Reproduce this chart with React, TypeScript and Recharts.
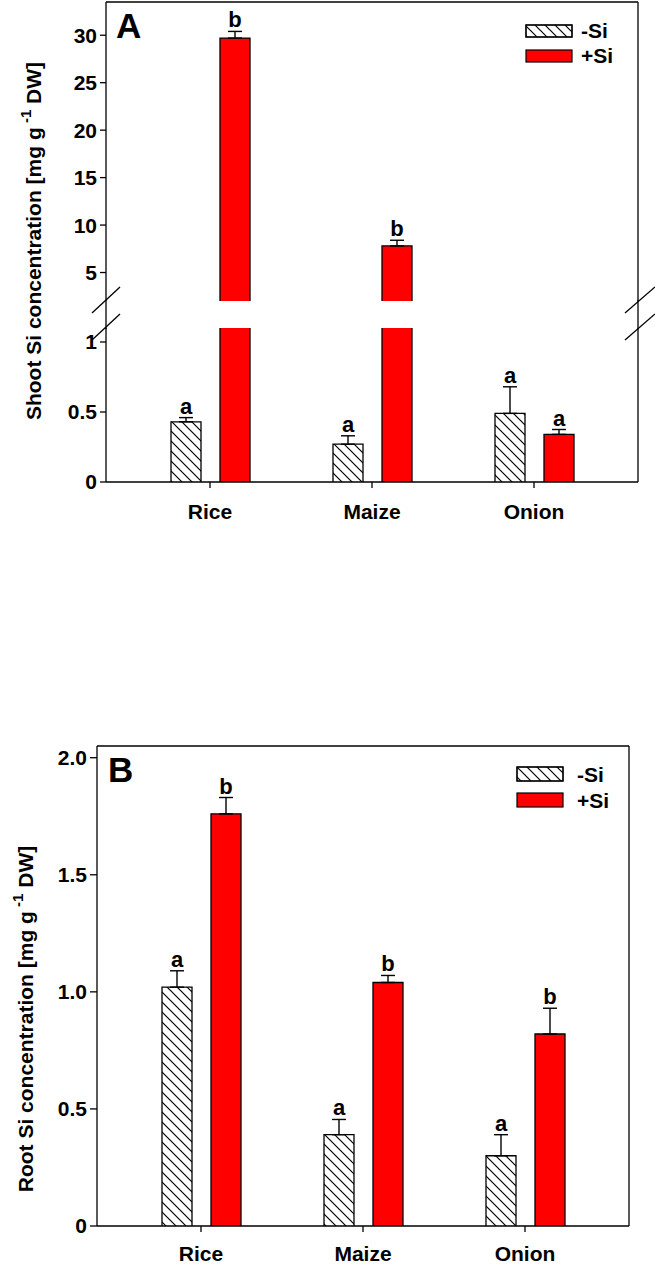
import React from "react";
import { BarChart, Bar, XAxis, YAxis, ErrorBar, LabelList } from "recharts";

const crops = ["Rice", "Maize", "Onion"];
const seriesNames = ["-Si", "+Si"];

// Panel A: shoot Si (mg g-1 DW)
const shootMinus = [0.43, 0.27, 0.49];
const shootMinusErr = [0.03, 0.06, 0.19];
const shootPlus = [29.7, 7.8, 0.34];
const shootPlusErr = [0.7, 0.6, 0.035];
const shootMinusLetters = ["a", "a", "a"];
const shootPlusLetters = ["b", "b", "a"];

// Panel B: root Si (mg g-1 DW)
const rootMinus = [1.02, 0.39, 0.3];
const rootMinusErr = [0.07, 0.065, 0.09];
const rootPlus = [1.76, 1.04, 0.82];
const rootPlusErr = [0.07, 0.03, 0.11];
const rootMinusLetters = ["a", "a", "a"];
const rootPlusLetters = ["b", "b", "b"];

// axis break for panel A
const lowDomain = [0, 1.1];
const highDomain = [2, 33.5];
const lowTicks = [0, 0.5, 1];
const highTicks = [5, 10, 15, 20, 25, 30];
const rootTicks = [0, 0.5, 1, 1.5, 2];

const FONT = "'Liberation Sans', Arial, Helvetica, sans-serif";
const RED = "#ff0000";

const lowData = crops.map((crop, i) => ({
  crop,
  minus: shootMinus[i],
  minusErr: shootMinus[i] <= lowDomain[1] ? [0, shootMinusErr[i]] : null,
  plus: shootPlus[i],
  plusErr: shootPlus[i] <= lowDomain[1] ? [0, shootPlusErr[i]] : null,
}));

const highData = crops.map((crop, i) => ({
  crop,
  minus: shootMinus[i] > lowDomain[1] ? shootMinus[i] : null,
  minusErr: shootMinus[i] > lowDomain[1] ? [0, shootMinusErr[i]] : null,
  plus: shootPlus[i] > lowDomain[1] ? shootPlus[i] : null,
  plusErr: shootPlus[i] > lowDomain[1] ? [0, shootPlusErr[i]] : null,
}));

const rootData = crops.map((crop, i) => ({
  crop,
  minus: rootMinus[i],
  minusErr: [0, rootMinusErr[i]],
  plus: rootPlus[i],
  plusErr: [0, rootPlusErr[i]],
}));

// bar drawn without a bottom edge so broken bars look open at the break
const makeBar = (fill: string) => (props: any) => {
  const { x, y, width, height } = props;
  if (height == null || height <= 0 || isNaN(y)) return <g />;
  return (
    <g>
      <rect x={x} y={y} width={width} height={height} fill="#fff" />
      <rect x={x} y={y} width={width} height={height} fill={fill} />
      <path
        d={`M${x},${y + height} L${x},${y} L${x + width},${y} L${x + width},${y + height}`}
        fill="none"
        stroke="#000"
        strokeWidth={1.3}
      />
    </g>
  );
};

const letterContent =
  (vals: number[], errs: number[], letters: string[], base: number, lo: number, hi: number) =>
  (props: any) => {
    const i = props.index;
    const vb = props.viewBox && props.viewBox.width != null ? props.viewBox : props;
    const { x, y, width, height } = vb;
    const v = vals[i];
    if (v == null || !(v > lo && v <= hi) || !height) return null;
    const perUnit = height / (v - base);
    const capY = y - errs[i] * perUnit;
    return (
      <text
        x={x + width / 2}
        y={capY - 4}
        textAnchor="middle"
        fontSize={22}
        fontWeight="bold"
        fontFamily={FONT}
        fill="#000"
      >
        {letters[i]}
      </text>
    );
  };

const HatchDefs = ({ id }: { id: string }) => (
  <defs>
    <pattern id={id} patternUnits="userSpaceOnUse" width="10" height="10">
      <path d="M0,0 L10,10 M-1,9 L1,11 M9,-1 L11,1" stroke="#000" strokeWidth="1.2" />
    </pattern>
  </defs>
);

const tickStyle = { fill: "#000", fontSize: 21, fontWeight: "bold", fontFamily: FONT };
const catTickStyle = { fill: "#000", fontSize: 21, fontWeight: "bold", fontFamily: FONT };
const fmt1 = (v: number) => (v === 0 ? "0" : v.toFixed(1));

const Legend2 = ({ x, y1, y2, h1, h2, tx, b1, b2, hatch }: any) => (
  <g>
    <rect x={x} y={y1} width={46} height={h1} fill="#fff" stroke="#000" strokeWidth={1.2} />
    <rect x={x} y={y1} width={46} height={h1} fill={`url(#${hatch})`} stroke="#000" strokeWidth={1.2} />
    <rect x={x} y={y2} width={46} height={h2} fill={RED} stroke="#000" strokeWidth={1.2} />
    <text x={tx} y={b1} fontSize={21} fontWeight="bold" fontFamily={FONT}>{seriesNames[0]}</text>
    <text x={tx} y={b2} fontSize={21} fontWeight="bold" fontFamily={FONT}>{seriesNames[1]}</text>
  </g>
);

const xPad = { left: 23, right: 23 };

export default function App() {
  return (
    <div
      style={{
        position: "absolute",
        top: 0,
        left: 0,
        width: 655,
        height: 1265,
        background: "#fff",
        fontFamily: FONT,
      }}
    >
      {/* Panel A, upper segment */}
      <div style={{ position: "absolute", top: 0, left: 0 }}>
        <BarChart
          width={655}
          height={301}
          data={highData}
          margin={{ top: 0, right: 0, bottom: 0, left: 0 }}
          barSize={30}
          barGap={19}
        >
          <HatchDefs id="hatchA1" />
          <XAxis dataKey="crop" hide padding={xPad} />
          <XAxis
            xAxisId="top"
            orientation="top"
            dataKey="crop"
            height={2}
            tick={false}
            tickLine={false}
            stroke="#000"
            strokeWidth={1.3}
            padding={xPad}
          />
          <YAxis
            type="number"
            domain={highDomain}
            ticks={highTicks}
            allowDataOverflow
            width={106}
            tickSize={6}
            tickMargin={3}
            tick={tickStyle}
            stroke="#000"
            strokeWidth={1.3}
          />
          <YAxis
            yAxisId="right"
            orientation="right"
            width={17}
            tick={false}
            tickLine={false}
            stroke="#000"
            strokeWidth={1.3}
          />
          <Bar dataKey="minus" shape={makeBar("url(#hatchA1)")} isAnimationActive={false}>
            <ErrorBar dataKey="minusErr" width={7} stroke="#000" strokeWidth={1.4} direction="y" />
          </Bar>
          <Bar dataKey="plus" shape={makeBar(RED)} isAnimationActive={false}>
            <ErrorBar dataKey="plusErr" width={7} stroke="#000" strokeWidth={1.4} direction="y" />
            <LabelList
              dataKey="plus"
              content={letterContent(shootPlus, shootPlusErr, shootPlusLetters, highDomain[0], lowDomain[1], Infinity)}
            />
          </Bar>
        </BarChart>
      </div>

      {/* Panel A, lower segment */}
      <div style={{ position: "absolute", top: 320, left: 0 }}>
        <BarChart
          width={655}
          height={210}
          data={lowData}
          margin={{ top: 8, right: 0, bottom: 0, left: 0 }}
          barSize={30}
          barGap={19}
        >
          <HatchDefs id="hatchA2" />
          <XAxis
            dataKey="crop"
            height={48}
            padding={xPad}
            tickSize={6}
            tickMargin={16}
            tick={catTickStyle}
            stroke="#000"
            strokeWidth={1.3}
          />
          <YAxis
            type="number"
            domain={lowDomain}
            ticks={lowTicks}
            allowDataOverflow
            width={106}
            tickSize={6}
            tickMargin={3}
            tick={tickStyle}
            stroke="#000"
            strokeWidth={1.3}
          />
          <YAxis
            yAxisId="right"
            orientation="right"
            width={17}
            tick={false}
            tickLine={false}
            stroke="#000"
            strokeWidth={1.3}
          />
          <Bar dataKey="minus" shape={makeBar("url(#hatchA2)")} isAnimationActive={false}>
            <ErrorBar dataKey="minusErr" width={7} stroke="#000" strokeWidth={1.4} direction="y" />
            <LabelList
              dataKey="minus"
              content={letterContent(shootMinus, shootMinusErr, shootMinusLetters, 0, -1, lowDomain[1])}
            />
          </Bar>
          <Bar dataKey="plus" shape={makeBar(RED)} isAnimationActive={false}>
            <ErrorBar dataKey="plusErr" width={7} stroke="#000" strokeWidth={1.4} direction="y" />
            <LabelList
              dataKey="plus"
              content={letterContent(shootPlus, shootPlusErr, shootPlusLetters, 0, -1, lowDomain[1])}
            />
          </Bar>
        </BarChart>
      </div>

      {/* Panel B */}
      <div style={{ position: "absolute", top: 700, left: 0 }}>
        <BarChart
          width={655}
          height={565}
          data={rootData}
          margin={{ top: 0, right: 0, bottom: 0, left: 0 }}
          barSize={30}
          barGap={19}
        >
          <HatchDefs id="hatchB" />
          <XAxis
            dataKey="crop"
            height={39}
            padding={xPad}
            tickSize={6}
            tickMargin={14}
            tick={catTickStyle}
            stroke="#000"
            strokeWidth={1.3}
          />
          <XAxis
            xAxisId="top"
            orientation="top"
            dataKey="crop"
            height={46}
            tick={false}
            tickLine={false}
            stroke="#000"
            strokeWidth={1.3}
            padding={xPad}
          />
          <YAxis
            type="number"
            domain={[0, 2.05]}
            ticks={rootTicks}
            allowDataOverflow
            width={97}
            tickSize={7}
            tickMargin={3}
            tick={tickStyle}
            tickFormatter={fmt1}
            stroke="#000"
            strokeWidth={1.3}
          />
          <YAxis
            yAxisId="right"
            orientation="right"
            width={26}
            tick={false}
            tickLine={false}
            stroke="#000"
            strokeWidth={1.3}
          />
          <Bar dataKey="minus" shape={makeBar("url(#hatchB)")} isAnimationActive={false}>
            <ErrorBar dataKey="minusErr" width={7} stroke="#000" strokeWidth={1.4} direction="y" />
            <LabelList
              dataKey="minus"
              content={letterContent(rootMinus, rootMinusErr, rootMinusLetters, 0, -1, 10)}
            />
          </Bar>
          <Bar dataKey="plus" shape={makeBar(RED)} isAnimationActive={false}>
            <ErrorBar dataKey="plusErr" width={7} stroke="#000" strokeWidth={1.4} direction="y" />
            <LabelList
              dataKey="plus"
              content={letterContent(rootPlus, rootPlusErr, rootPlusLetters, 0, -1, 10)}
            />
          </Bar>
        </BarChart>
      </div>

      {/* annotations: break marks, titles, panel letters, legends */}
      <svg
        width={655}
        height={1265}
        style={{ position: "absolute", top: 0, left: 0, pointerEvents: "none" }}
      >
        <HatchDefs id="hatchLeg" />
        <g stroke="#000" strokeWidth={1.3}>
          <line x1={106} y1={300} x2={106} y2={329} />
          <line x1={638} y1={300} x2={638} y2={329} />
          <line x1={92} y1={313} x2={120} y2={287} />
          <line x1={92} y1={340} x2={120} y2={314} />
          <line x1={625} y1={313} x2={655} y2={287} />
          <line x1={625} y1={340} x2={655} y2={314} />
        </g>

        <text x={116} y={38} fontSize={35} fontWeight="bold" fontFamily={FONT}>A</text>
        <text x={108} y={782} fontSize={35} fontWeight="bold" fontFamily={FONT}>B</text>

        <text
          transform="translate(41,241) rotate(-90)"
          textAnchor="middle"
          fontSize={21}
          fontWeight="bold"
          fontFamily={FONT}
        >
          Shoot Si concentration [mg g
          <tspan dy={-10} fontSize={15}> -1</tspan>
          <tspan dy={10}>  DW]</tspan>
        </text>
        <text
          transform="translate(33,1019) rotate(-90)"
          textAnchor="middle"
          fontSize={21}
          fontWeight="bold"
          fontFamily={FONT}
        >
          Root Si concentration [mg g
          <tspan dy={-10} fontSize={15}> -1</tspan>
          <tspan dy={10}>  DW]</tspan>
        </text>

        <Legend2 x={526} y1={25} h1={12} y2={50} h2={12} tx={581} b1={38} b2={63} hatch="hatchLeg" />
        <Legend2 x={517} y1={767} h1={14} y2={793} h2={14} tx={577} b1={782} b2={808} hatch="hatchLeg" />
      </svg>
    </div>
  );
}
